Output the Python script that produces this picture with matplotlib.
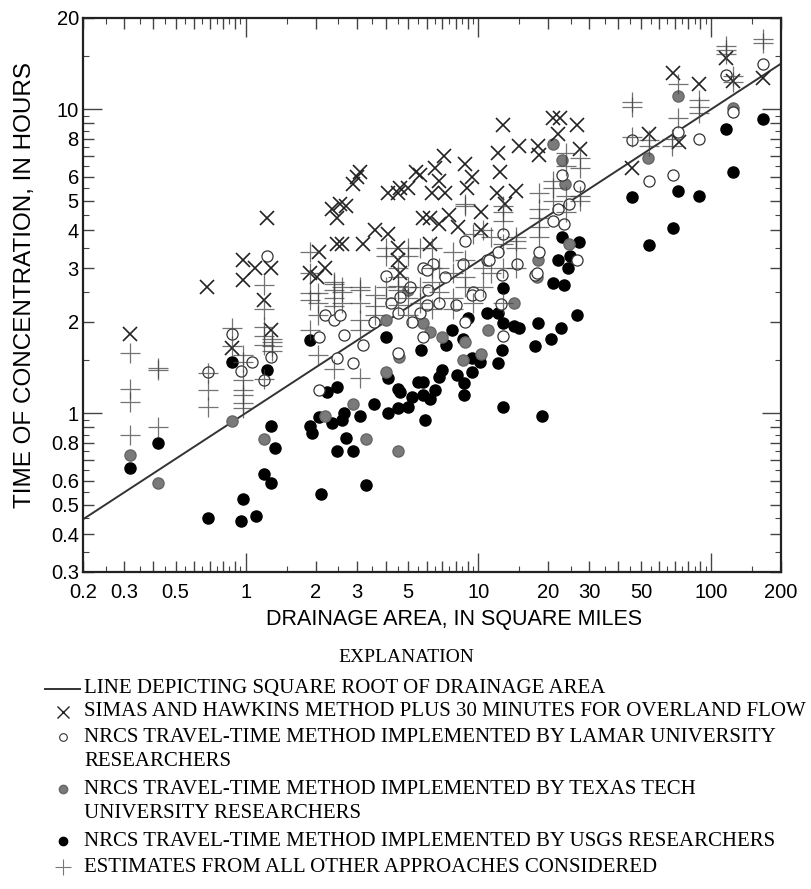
import numpy as np
import matplotlib.pyplot as plt
from matplotlib.ticker import FixedLocator, FuncFormatter

plt.rcParams['font.family'] = ['Liberation Sans', 'DejaVu Sans']

# NRCS travel-time, USGS researchers (black dots)
usgs_x = [0.32, 0.42, 0.87, 1.23, 1.29, 1.34, 1.20, 1.29, 0.69, 0.97, 0.96, 1.11,
          1.89, 2.24, 2.46, 1.89, 1.93, 2.07, 2.36, 2.6, 2.64, 2.71, 2.46, 2.9, 3.1, 3.55, 3.3, 2.1,
          4.1, 4.5, 4.1, 4.5, 4.0, 4.6, 5.2, 5.5, 5.7, 5.0,
          5.8, 5.8, 5.9, 6.2, 6.5, 6.8, 7.0, 7.3, 7.7, 8.1,
          8.7, 8.7, 9.4, 8.6, 9.0, 9.4, 10.2, 10.9, 12.1, 12.8,
          12.1, 12.6, 12.8, 12.8, 14.2, 15.0, 17.6, 18.0, 18.8, 20.6,
          22.6, 26.5, 21.0, 23.3, 22.0, 24.4, 24.7, 23.0, 27.0,
          46, 54, 69, 72.5, 89, 116, 124, 167]
usgs_y = [0.66, 0.80, 1.47, 1.39, 0.91, 0.77, 0.63, 0.59, 0.45, 0.52, 0.44, 0.46,
          1.74, 1.17, 1.22, 0.91, 0.86, 0.97, 0.93, 0.95, 1.0, 0.83, 0.75, 0.75, 0.98, 1.07, 0.58, 0.54,
          1.0, 1.04, 1.31, 1.2, 1.78, 1.17, 1.13, 1.27, 1.62, 1.05,
          1.27, 1.15, 0.95, 1.11, 1.19, 1.32, 1.39, 1.68, 1.88, 1.34,
          1.26, 1.15, 1.37, 1.76, 2.05, 1.52, 1.47, 2.13, 2.13, 1.98,
          1.46, 1.62, 1.05, 2.58, 1.94, 1.9, 1.66, 1.98, 0.98, 1.76,
          1.9, 2.1, 2.68, 2.64, 3.2, 3.0, 3.3, 3.8, 3.66,
          5.15, 3.57, 4.06, 5.4, 5.2, 8.6, 6.2, 9.3]

# NRCS travel-time, Texas Tech (gray dots)
ttu_x = [0.32, 0.42, 0.87, 1.2, 2.2, 2.9, 3.3, 4.5, 4.0, 4.0,
         4.55, 5.0, 5.8, 6.2, 7.0, 8.8, 8.6, 10.3, 11, 14.2,
         17.8, 18, 24.5, 23.5, 23, 21, 53.6, 72, 124]
ttu_y = [0.73, 0.59, 0.94, 0.82, 0.98, 1.07, 0.82, 0.75, 1.37, 2.03,
         1.53, 2.55, 1.98, 1.85, 1.78, 1.72, 1.5, 1.57, 1.88, 2.3,
         2.8, 3.2, 3.6, 5.7, 6.8, 7.7, 6.9, 11.1, 10.1]

# NRCS travel-time, Lamar (open circles)
lamar_x = [0.87, 0.69, 0.96, 1.07, 1.2, 1.28, 1.23, 2.07, 2.07, 2.2,
           2.4, 2.55, 2.46, 2.65, 2.9, 3.2, 3.55, 4.0, 4.2, 4.5,
           4.5, 4.6, 5.2, 5.1, 5.8, 6.4, 7.2, 8.6, 8.8, 9.5,
           10.9, 12.1, 12.6, 12.8, 14.6, 17.6, 18.3, 21, 22, 23.3,
           24.6, 23, 26.5, 27, 46, 54, 69, 72, 89, 116,
           124, 167, 6.1, 5.6, 6.0, 6.8, 8.0, 9.4, 10.2, 8.8,
           12.8, 12.5, 5.8, 6.0, 11.1, 17.8]
lamar_y = [1.82, 1.37, 1.38, 1.47, 1.29, 1.53, 3.3, 1.78, 1.19, 2.1,
           2.03, 2.1, 1.52, 1.81, 1.46, 1.68, 2.0, 2.83, 2.3, 2.14,
           1.58, 2.42, 2.0, 2.6, 3.0, 3.1, 2.8, 3.1, 3.7, 2.5,
           3.2, 3.4, 2.85, 3.9, 3.1, 2.85, 3.4, 4.3, 4.7, 4.2,
           4.9, 6.1, 3.2, 5.6, 7.9, 5.8, 6.1, 8.4, 8.0, 13.0,
           9.8, 14.1, 2.55, 2.14, 2.27, 2.3, 2.27, 2.45, 2.45, 2.0,
           1.8, 2.28, 1.78, 2.97, 3.2, 2.9]

# Simas and Hawkins + 30 minutes (x markers)
simas_x = [0.32, 0.68, 0.87, 0.97, 0.97, 1.1, 1.23, 1.29, 1.2, 1.29,
           1.89, 2.03, 2.2, 2.07, 2.36, 2.46, 2.55, 2.7, 2.46, 2.6,
           3.0, 3.1, 2.9, 3.2, 3.6, 4.1, 4.5, 5.0, 5.4, 4.1,
           4.5, 4.5, 4.6, 5.6, 6.5, 6.8, 7.1, 8.8, 9.4, 8.9,
           6.3, 7.2, 5.8, 7.5, 10.3, 6.8, 8.2, 10.3, 6.2, 12.1,
           12.4, 12.8, 12.0, 13.0, 14.5, 14.9, 18.0, 18.2, 21, 22.5,
           26.5, 27.5, 22, 46, 54, 69, 73, 89, 116, 124,
           167, 6.2, 4.6]
simas_y = [1.82, 2.6, 1.64, 3.2, 2.74, 3.0, 4.4, 3.0, 2.36, 1.88,
           2.9, 2.8, 3.0, 3.4, 4.7, 4.4, 4.9, 4.8, 3.6, 3.6,
           6.0, 6.2, 5.7, 3.6, 4.0, 5.3, 5.3, 5.5, 6.2, 3.9,
           3.5, 3.2, 2.9, 6.1, 6.4, 5.8, 7.0, 6.6, 6.0, 5.5,
           5.3, 5.3, 4.4, 4.5, 4.6, 4.2, 4.1, 4.0, 3.6, 7.2,
           6.2, 8.9, 5.3, 4.9, 5.4, 7.6, 7.6, 7.1, 9.4, 9.4,
           8.9, 7.4, 8.3, 6.4, 8.3, 13.2, 7.8, 12.1, 14.8, 12.4,
           12.7, 4.4, 5.5]

# All other approaches (plus markers)
other_x = [0.32, 0.32, 0.32, 0.32, 0.42, 0.42, 0.42, 0.69, 0.69, 0.69,
           0.87, 0.87, 0.97, 0.97, 0.97, 0.97, 0.97, 0.97, 0.97,
           1.2, 1.2, 1.2, 1.2, 1.2, 1.2, 1.3, 1.3, 1.3, 1.3,
           1.9, 1.9, 1.9, 1.9, 1.9, 2.05, 2.05, 2.05, 2.05,
           2.4, 2.4, 2.4, 2.4, 2.4, 2.4, 2.6, 2.6, 2.6,
           3.1, 3.1, 3.1, 3.1, 3.1, 3.1, 3.6, 3.6, 3.6,
           4.0, 4.0, 4.0, 4.0, 4.5, 4.5, 4.5, 4.5, 4.5,
           5.0, 5.0, 5.0, 5.0, 5.0, 5.6, 5.6, 5.6, 6.3, 6.3, 6.3, 6.3,
           6.8, 6.8, 7.8, 7.8, 7.8, 7.8, 8.8, 8.8, 8.8, 8.8, 8.8,
           9.5, 9.5, 10.5, 10.5, 10.5, 11.3, 11.3,
           12.8, 12.8, 12.8, 12.8, 12.8, 12.8, 14.5, 14.5, 14.5, 14.5,
           18.2, 18.2, 18.2, 18.2, 18.2, 21, 21, 21,
           23.8, 23.8, 23.8, 23.8, 27.5, 27.5, 27.5, 27.5,
           46, 46, 46, 54, 54, 68, 68, 72, 72, 89, 89, 89,
           116, 116, 116, 124, 124, 167, 167]
other_y = [1.58, 1.2, 1.09, 0.85, 1.39, 1.41, 0.90, 1.19, 1.05, 1.36,
           1.91, 1.66, 1.55, 1.47, 1.29, 1.19, 1.15, 1.08, 1.04,
           1.68, 1.92, 2.2, 2.65, 1.30, 1.80, 1.71, 1.66, 1.60, 1.75,
           1.88, 2.36, 2.48, 3.4, 2.9, 1.55, 2.48, 2.3, 2.1,
           2.7, 2.55, 2.67, 2.25, 2.4, 1.4, 2.6, 2.5, 2.3,
           2.55, 2.6, 2.03, 1.88, 1.31, 2.3, 2.45, 2.25, 2.1,
           3.5, 3.3, 2.6, 2.4, 2.8, 2.63, 2.55, 2.27, 3.0,
           2.4, 2.6, 2.1, 3.3, 3.5, 3.5, 2.3, 2.6, 3.5, 3.0, 2.7, 2.2,
           3.0, 2.5, 3.4, 2.9, 2.4, 2.2, 4.8, 4.9, 3.2, 2.8, 2.6,
           3.9, 2.3, 4.0, 3.0, 2.6, 3.8, 2.9,
           4.8, 4.6, 4.3, 3.6, 3.0, 2.3, 3.8, 3.7, 3.5, 3.0,
           5.3, 4.7, 4.1, 4.4, 3.8, 5.5, 5.8, 5.0,
           7.2, 6.5, 5.2, 4.6, 6.9, 6.4, 5.2, 5.0,
           10.6, 10.2, 8.1, 7.9, 7.6, 8.0, 7.6, 12.1, 9.4, 10.7, 10.2, 9.7,
           15.7, 16.2, 15.2, 12.3, 12.9, 17.0, 16.5]

x_labels = [0.2, 0.3, 0.5, 1, 2, 3, 5, 10, 20, 30, 50, 100, 200]
y_labels = [0.3, 0.4, 0.5, 0.6, 0.8, 1, 2, 3, 4, 5, 6, 8, 10, 20]

fig = plt.figure(figsize=(8.12, 8.89), dpi=100)
ax = fig.add_axes([0.1022, 0.3566, 0.8596, 0.6232])
ax.set_xscale('log')
ax.set_yscale('log')
ax.set_xlim(0.2, 200)
ax.set_ylim(0.3, 20)

# square-root reference line
line_x = np.array([0.2, 200])
ax.plot(line_x, np.sqrt(line_x), color='#333333', lw=1.4, zorder=2)

ax.plot(usgs_x, usgs_y, 'o', ms=8, mfc='black', mec='black', zorder=3)
ax.plot(ttu_x, ttu_y, 'o', ms=8, mfc='#7a7a7a', mec='#666666', zorder=3)
ax.plot(lamar_x, lamar_y, 'o', ms=8, mfc='white', mec='#333333', mew=0.9, zorder=4)
ax.plot(simas_x, simas_y, 'x', ms=10.5, mec='#222222', mew=1.2, zorder=5)
ax.plot(other_x, other_y, '+', ms=14, mec='#444444', mew=0.9, alpha=0.75, zorder=6)


def decade_ticks(lo, hi, step):
    out = []
    for e in range(-1, 3):
        for m in np.arange(1, 10, step):
            v = round(m * 10.0 ** e, 6)
            if lo - 1e-9 <= v <= hi + 1e-9 and (step == 1 or m % 1 != 0):
                out.append(v)
    return out


def only_labels(labels):
    def fmt(v, pos):
        for lab in labels:
            if abs(v - lab) / lab < 1e-6:
                return f'{lab:g}'
        return ''
    return FuncFormatter(fmt)


ax.xaxis.set_major_locator(FixedLocator(decade_ticks(0.2, 200, 1)))
ax.xaxis.set_minor_locator(FixedLocator(decade_ticks(0.2, 200, 0.5)))
ax.yaxis.set_major_locator(FixedLocator(decade_ticks(0.3, 20, 1)))
ax.yaxis.set_minor_locator(FixedLocator(decade_ticks(0.3, 20, 0.5)))
ax.xaxis.set_major_formatter(only_labels(x_labels))
ax.yaxis.set_major_formatter(only_labels(y_labels))
ax.xaxis.set_minor_formatter(FuncFormatter(lambda v, p: ''))
ax.yaxis.set_minor_formatter(FuncFormatter(lambda v, p: ''))

ax.tick_params(which='both', direction='in', top=True, right=True, colors='#444444')
ax.tick_params(which='major', length=8, width=1, labelsize=14.5, labelcolor='black')
ax.tick_params(axis='x', which='major', pad=8)
ax.tick_params(axis='y', which='major', pad=3)
ax.tick_params(which='minor', length=4, width=0.8)

# longer ticks at the decades
for axis in (ax.xaxis, ax.yaxis):
    locs = axis.get_majorticklocs()
    for loc, tick in zip(locs, axis.get_major_ticks()):
        if abs(np.log10(loc) - round(np.log10(loc))) < 1e-6:
            tick.tick1line.set_markersize(14)
            tick.tick2line.set_markersize(14)

for sp in ax.spines.values():
    sp.set_linewidth(1.6)
    sp.set_color('#222222')

ax.set_xlabel('DRAINAGE AREA, IN SQUARE MILES', fontsize=15.5)
ax.xaxis.set_label_coords(0.532, -0.066)
ax.set_ylabel('TIME OF CONCENTRATION, IN HOURS', fontsize=17.5)
ax.yaxis.set_label_coords(-0.068, 0.518)

# explanation block, laid out in pixel units
lax = fig.add_axes([0, 0, 1, 1], zorder=-1)
lax.set_xlim(0, 812)
lax.set_ylim(889, 0)
lax.axis('off')
serif = dict(family=['Liberation Serif', 'DejaVu Serif'], fontsize=15, va='center', ha='left')
lax.text(406, 658, 'EXPLANATION', ha='center', va='center',
         family=['Liberation Serif', 'DejaVu Serif'], fontsize=14)
lax.plot([45, 80], [689, 689], color='#333333', lw=1.4)
lax.text(84, 689, 'LINE DEPICTING SQUARE ROOT OF DRAINAGE AREA', **serif)
lax.plot([63], [712], 'x', ms=8, mec='#222222', mew=1)
lax.text(84, 712, 'SIMAS AND HAWKINS METHOD PLUS 30 MINUTES FOR OVERLAND FLOW', **serif)
lax.plot([63], [737], 'o', ms=5.5, mfc='white', mec='#333333', mew=0.8)
lax.text(84, 737, 'NRCS TRAVEL-TIME METHOD IMPLEMENTED BY LAMAR UNIVERSITY', **serif)
lax.text(84, 762, 'RESEARCHERS', **serif)
lax.plot([63], [789], 'o', ms=6, mfc='#7a7a7a', mec='#666666')
lax.text(84, 789, 'NRCS TRAVEL-TIME METHOD IMPLEMENTED BY TEXAS TECH', **serif)
lax.text(84, 814, 'UNIVERSITY RESEARCHERS', **serif)
lax.plot([63], [841], 'o', ms=6, mfc='black', mec='black')
lax.text(84, 841, 'NRCS TRAVEL-TIME METHOD IMPLEMENTED BY USGS RESEARCHERS', **serif)
lax.plot([63], [867], '+', ms=11, mec='#777777', mew=0.8)
lax.text(84, 867, 'ESTIMATES FROM ALL OTHER APPROACHES CONSIDERED', **serif)

fig.savefig('out.png', dpi=100)
